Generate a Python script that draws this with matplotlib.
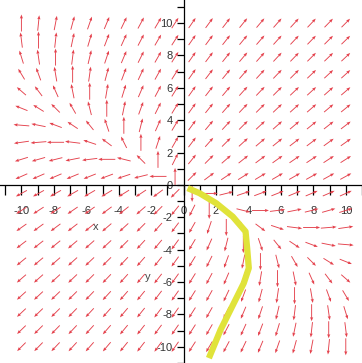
import numpy as np
import matplotlib
matplotlib.use('Agg')
import matplotlib.pyplot as plt

plt.rcParams['font.family'] = ['Liberation Sans', 'DejaVu Sans']
plt.rcParams['axes.unicode_minus'] = False

# linear system  x' = 2x + 2y ,  y' = x + 3y
coef_x = [2, 2]
coef_y = [1, 3]
arrow_grid = np.linspace(-10, 10, 20)   # 20 x 20 arrows like DEplot

# hand drawn yellow curve
curve_x = [0.25, 0.98, 2.01, 3.03, 3.82, 3.92, 4.02, 3.71, 2.89, 2.28, 1.56]
curve_y = [-0.2, -0.51, -1.13, -1.96, -2.88, -3.91, -5.14, -6.07, -7.72, -8.95, -10.7]

major_ticks = [-10, -8, -6, -4, -2, 0, 2, 4, 6, 8, 10]
minor_ticks = list(range(-11, 12))

X, Y = np.meshgrid(arrow_grid, arrow_grid)
U = coef_x[0] * X + coef_x[1] * Y
V = coef_y[0] * X + coef_y[1] * Y
# maple-ish scaling: sum of components fixed
s = np.abs(U) + np.abs(V)
s[s == 0] = 1
arrow_len = 1.05
U = U / s * arrow_len
V = V / s * arrow_len

fig = plt.figure(figsize=(3.62, 3.63), dpi=100)
ax = fig.add_axes([0, 0, 1, 1])

ax.quiver(X, Y, U, V, angles='xy', scale_units='xy', scale=1, pivot='mid',
          color='#e4414c', width=0.0025, headwidth=3.5, headlength=4.5,
          headaxislength=4, zorder=2)

ax.plot(curve_x, curve_y, color='#e0e33a', lw=4.5, solid_capstyle='butt',
        solid_joinstyle='round', zorder=3)

ax.set_xlim(-11.32, 10.95)
ax.set_ylim(-10.99, 11.42)

for side in ['top', 'right']:
    ax.spines[side].set_visible(False)
ax.spines['left'].set_position(('data', 0))
ax.spines['bottom'].set_position(('data', 0))
ax.spines['left'].set_linewidth(0.9)
ax.spines['bottom'].set_linewidth(0.9)

ax.set_xticks(major_ticks)
ax.set_yticks(major_ticks)
ax.set_xticks(minor_ticks, minor=True)
ax.set_yticks(minor_ticks, minor=True)
ax.set_xticklabels([str(t) for t in major_ticks])
ax.set_yticklabels([str(t) for t in major_ticks])

ax.tick_params(axis='x', which='both', direction='out', length=7, width=0.9,
               pad=8, labelsize=8, labelcolor='#333333')
ax.tick_params(axis='y', which='both', direction='out', length=5, width=0.9,
               pad=3, labelsize=8, labelcolor='#333333')

ax.text(-5.43, -2.59, 'x', fontsize=8, color='#444444', ha='center', va='center')
ax.text(-2.22, -5.68, 'y', fontsize=8, color='#444444', ha='center', va='center')

fig.savefig('out.png', dpi=100, facecolor='white')
